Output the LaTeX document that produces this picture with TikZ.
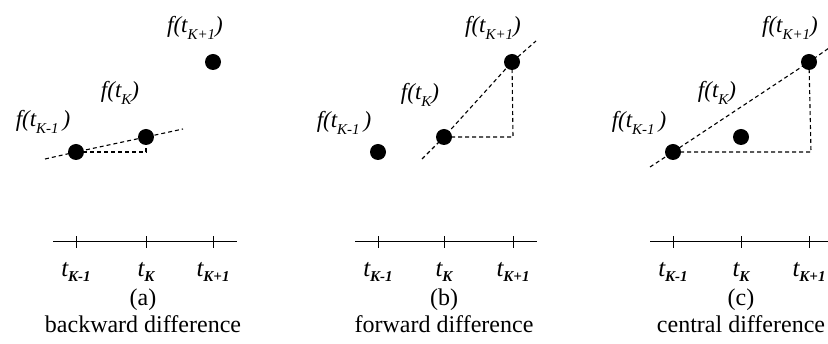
\documentclass[tikz,border=0pt]{standalone}
\usepackage{fontspec}
\setmainfont{Liberation Serif}
\newcommand\fsub[1]{\raisebox{-0.28em}{\fontsize{15}{15}\selectfont #1}}
\newcommand\tsub[1]{\raisebox{-5pt}{\fontsize{15}{15}\selectfont\bfseries\itshape #1}}
\tikzset{
  dot/.style={circle,fill=black,inner sep=0pt,minimum size=16pt},
  dsh/.style={dash pattern=on 4pt off 3pt,line width=1.1pt},
  axisline/.style={line width=1pt},
  flabel/.style={font=\fontsize{23}{23}\selectfont\itshape,inner sep=0pt},
  tlabel/.style={font=\fontsize{25}{25}\selectfont\itshape,inner sep=0pt,anchor=base},
  captext/.style={font=\fontsize{24}{24}\selectfont,inner sep=0pt,anchor=base},
}
\begin{document}
\begin{tikzpicture}[x=1pt,y=-1pt]
\useasboundingbox (0,0) rectangle (828,344);
% ---------- panel (a) ----------
\node[dot] (a1) at (76,152) {};
\node[dot] (a2) at (146,137) {};
\node[dot] (a3) at (213,62) {};
\coordinate (aL) at (45,159);
\coordinate (aR) at (183,129);
\coordinate (aC) at (146,152);
\draw[dsh] (aL) -- (a1.center) -- (a2.center) -- (aR);
\draw[dsh] (a1.center) -- (aC) -- (a2.center);
\node[flabel] (fa1) at (43,122) {f(t\fsub{K-1}\,)};
\node[flabel] (fa2) at (120,93) {f(t\fsub{K})};
\node[flabel] (fa3) at (195,28) {f(t\fsub{K+1})};
\coordinate (axL) at (53,242);
\coordinate (axR) at (237,242);
\draw[axisline] (axL) -- (axR);
\foreach \x/\n in {76/1,146/2,213/3}{
  \coordinate (ta\n) at (\x,242);
  \draw[axisline] ([yshift=-6pt]ta\n) -- ([yshift=6pt]ta\n);
}
\node[tlabel] (la1) at (76,277) {t\tsub{K-1}};
\node[tlabel] (la2) at (146,277) {t\tsub{K}};
\node[tlabel] (la3) at (213,277) {t\tsub{K+1}};
\node[captext] (ca) at (143,306) {(a)};
\node[captext] (da) at (143,333) {backward difference};
% ---------- panel (b) ----------
\node[dot] (b1) at (378,152) {};
\node[dot] (b2) at (444,137) {};
\node[dot] (b3) at (512,62) {};
\coordinate (bL) at (422,159);
\coordinate (bR) at (536,41);
\coordinate (bC) at (513,137);
\draw[dsh] (bL) -- (b2.center) -- (b3.center) -- (bR);
\draw[dsh] (b2.center) -- (bC) -- (b3.center);
\node[flabel] (fb1) at (344,123) {f(t\fsub{K-1}\,)};
\node[flabel] (fb2) at (420,95) {f(t\fsub{K})};
\node[flabel] (fb3) at (493,28) {f(t\fsub{K+1})};
\coordinate (bxL) at (355,242);
\coordinate (bxR) at (537,242);
\draw[axisline] (bxL) -- (bxR);
\foreach \x/\n in {378/1,444/2,513/3}{
  \coordinate (tb\n) at (\x,242);
  \draw[axisline] ([yshift=-6pt]tb\n) -- ([yshift=6pt]tb\n);
}
\node[tlabel] (lb1) at (378,277) {t\tsub{K-1}};
\node[tlabel] (lb2) at (444,277) {t\tsub{K}};
\node[tlabel] (lb3) at (513,277) {t\tsub{K+1}};
\node[captext] (cb) at (444,306) {(b)};
\node[captext] (db) at (444,333) {forward difference};
% ---------- panel (c) ----------
\node[dot] (c1) at (673,152) {};
\node[dot] (c2) at (741,137) {};
\node[dot] (c3) at (809,62) {};
\coordinate (cL) at (650,167);
\coordinate (cR) at (829,48);
\coordinate (cC) at (811,152);
\draw[dsh] (cL) -- (c1.center) -- (c3.center) -- (cR);
\draw[dsh] (c1.center) -- (cC) -- (c3.center);
\node[flabel] (fc1) at (639,123) {f(t\fsub{K-1}\,)};
\node[flabel] (fc2) at (717,93) {f(t\fsub{K})};
\node[flabel] (fc3) at (790,28) {f(t\fsub{K+1})};
\coordinate (cxL) at (650,242);
\coordinate (cxR) at (828,242);
\draw[axisline] (cxL) -- (cxR);
\foreach \x/\n in {673/1,741/2,809/3}{
  \coordinate (tc\n) at (\x,242);
  \draw[axisline] ([yshift=-6pt]tc\n) -- ([yshift=6pt]tc\n);
}
\node[tlabel] (lc1) at (673,277) {t\tsub{K-1}};
\node[tlabel] (lc2) at (741,277) {t\tsub{K}};
\node[tlabel] (lc3) at (809,277) {t\tsub{K+1}};
\node[captext] (cc) at (741,306) {(c)};
\node[captext] (dc) at (741,333) {central difference};
\end{tikzpicture}
\end{document}
